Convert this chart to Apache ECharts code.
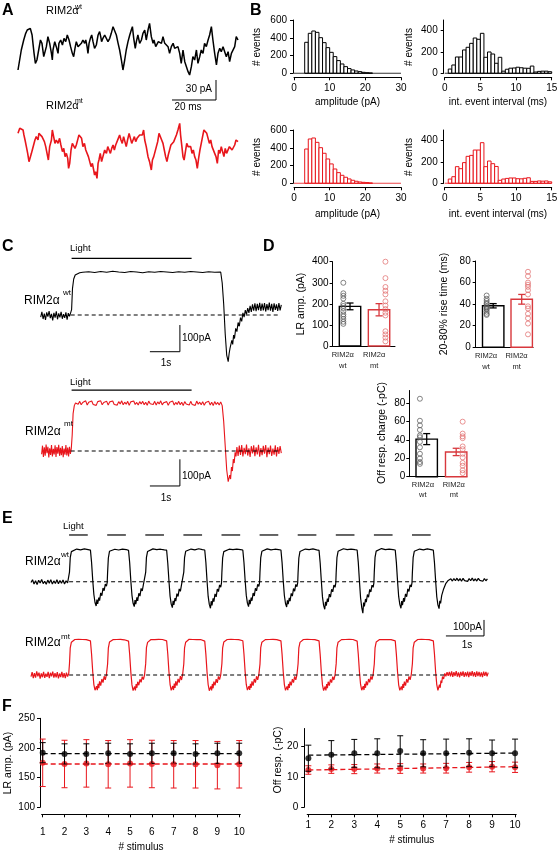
<!DOCTYPE html>
<html><head><meta charset="utf-8">
<script src="https://cdn.jsdelivr.net/npm/echarts@6/dist/echarts.min.js"></script>
<style>html,body{margin:0;padding:0;background:#fff}#c{width:558px;height:852px}</style>
</head><body><div id="c"></div>
<script>
// ---------------- DATA ----------------
// Panel A: spontaneous traces [ms, pA]
const traceAwt = [[0,10],[0.8,12.5],[1.5,40],[2.6,55],[3.5,65],[4.2,70],[5.0,67.5],[5.6,72.5],[6.4,62.5],[6.8,50],[7.3,35],[7.9,20],[8.6,25],[9.4,40],[10.2,55],[10.9,50],[11.7,30],[12.4,27.5],[12.9,45],[13.6,60],[14.4,50],[15.2,35],[15.6,25],[15.9,40],[16.7,52.5],[17.4,45],[18.2,35],[18.6,50],[19.4,55],[20.2,47.5],[20.9,57.5],[21.7,52.5],[22.4,62.5],[23.2,55],[23.9,45],[24.7,35],[25.3,30],[25.9,42.5],[26.5,52.5],[27.3,45],[28.0,47.5],[28.8,50],[29.5,55],[30.3,50],[30.8,55],[31.4,45],[31.8,35],[32.3,50],[32.9,57.5],[33.5,62.5],[34.1,52.5],[34.8,42.5],[35.6,47.5],[36.4,62.5],[37.1,67.5],[37.6,60],[38.0,52.5],[38.6,57.5],[39.4,62.5],[40.2,60],[40.9,52.5],[41.7,57.5],[42.4,65],[43.2,75],[43.9,72.5],[44.7,62.5],[45.5,50],[46.2,40],[47.0,25],[47.7,10],[48.5,25],[49.2,40],[50.0,52.5],[50.8,62.5],[51.5,70],[52.0,75],[52.6,57.5],[53.3,42.5],[53.8,52.5],[54.5,62.5],[55.3,50],[56.1,55],[56.8,65],[57.6,70],[58.3,55],[59.1,70],[59.8,80],[60.6,60],[61.4,50],[61.8,55],[62.6,45],[63.2,42.5],[63.8,52.5],[64.4,55],[65.2,50],[65.9,60],[66.7,50],[67.4,52.5],[68.2,45],[68.9,35],[69.7,45],[70.5,50],[71.2,42.5],[72.0,40],[72.7,45],[73.5,35],[74.2,20],[75.0,40],[75.8,22.5],[76.5,20],[77.3,7.5],[78.0,2.5],[78.8,15],[79.5,30],[80.3,25],[81.1,40],[81.8,20],[82.6,30],[83.3,40],[84.1,35],[84.8,50],[85.6,45],[86.4,55],[87.1,62.5],[87.9,75],[88.6,55],[89.4,35],[90.2,17.5],[90.9,35],[91.7,42.5],[92.4,37.5],[93.2,45],[93.9,47.5],[94.7,30],[95.5,37.5],[96.2,22.5],[97.0,35],[97.7,32.5],[98.5,45],[99.2,60],[100.0,55]];
const traceAmt = [[0,80],[0.8,87.5],[1.5,90],[2.3,85],[2.7,77.5],[3.2,70],[3.8,60],[4.4,50],[5.0,37.5],[5.6,40],[6.1,50],[6.5,55],[7.1,62.5],[7.7,70],[8.3,75],[9.1,70],[9.5,80],[10.2,82.5],[10.9,75],[11.4,77.5],[12.0,67.5],[12.6,60],[13.2,50],[13.8,40],[14.4,60],[15.2,70],[15.6,85],[16.2,75],[16.8,65],[17.4,70],[18.2,65],[18.9,72.5],[19.5,62.5],[20.2,52.5],[20.8,57.5],[21.4,45],[22.0,50],[22.6,42.5],[23.0,27.5],[23.5,35],[24.1,55],[24.7,65],[25.3,67.5],[25.9,57.5],[26.5,62.5],[27.3,72.5],[27.7,77.5],[28.3,80],[28.9,72.5],[29.5,60],[30.2,65],[30.8,55],[31.4,52.5],[32.0,45],[32.6,47.5],[33.2,30],[33.8,35],[34.4,25],[34.8,17.5],[35.3,22.5],[35.9,12.5],[36.4,35],[36.8,40],[37.4,50],[38.0,37.5],[38.6,45],[39.4,55],[40.2,50],[40.8,60],[41.4,55],[42.0,50],[42.6,57.5],[43.2,62.5],[43.8,55],[44.4,62.5],[45.0,65],[45.6,72.5],[46.2,77.5],[46.8,70],[47.4,65],[48.0,75],[48.6,67.5],[49.2,60],[49.8,70],[50.5,80],[51.1,72.5],[51.7,65],[52.3,70],[52.9,75],[53.5,67.5],[54.1,72.5],[54.7,75],[55.3,77.5],[55.9,80],[56.5,77.5],[57.1,85],[57.6,70],[58.3,60],[59.1,45],[59.8,37.5],[60.6,25],[61.1,40],[61.7,45],[62.3,52.5],[62.9,60],[63.5,67.5],[64.1,80],[64.7,82.5],[65.3,70],[65.9,65],[66.5,55],[67.1,45],[67.7,37.5],[68.3,47.5],[68.9,55],[69.5,62.5],[70.2,65],[70.8,67.5],[71.4,70],[72.0,77.5],[72.7,85],[73.5,95],[73.9,77.5],[74.5,60],[75.0,45],[75.5,40],[76.1,52.5],[76.7,65],[77.3,60],[77.9,57.5],[78.5,60],[79.1,50],[79.7,55],[80.3,45],[80.9,40],[81.5,27.5],[82.1,42.5],[82.7,55],[83.3,65],[83.9,75],[84.5,85],[85.2,87.5],[85.8,80],[86.4,72.5],[87.0,65],[87.6,70],[88.2,60],[88.8,57.5],[89.4,50],[90.0,45],[90.6,35],[91.2,55],[91.8,50],[92.4,60],[93.0,52.5],[93.6,45],[94.2,57.5],[94.8,50],[95.5,52.5],[96.1,60],[96.7,62.5],[97.3,55],[97.9,57.5],[98.5,62.5],[99.1,70],[99.7,72.5],[100.0,67.5]];

// Panel B: histograms
const ampBins = [0,1,2,3,4,5,6,7,8,9,10,11,12,13,14,15,16,17,18,19,20,21,22,23,24,25,26,27,28,29];
const ampWt = [0,0,0,349,450,476,461,401,345,289,236,188,143,105,75,53,38,26,19,11,7,4,0,0,0,0,0,0,0,0];
const ampMt = [0,0,0,386,499,510,461,401,338,274,218,161,120,90,68,49,34,23,15,11,8,4,0,0,0,0,0,0,0,0];
const intBins = [0,0.5,1,1.5,2,2.5,3,3.5,4,4.5,5,5.5,6,6.5,7,7.5,8,8.5,9,9.5,10,10.5,11,11.5,12,12.5,13,13.5,14,14.5];
const intWt = [0,40,78,153,153,219,244,281,331,319,375,150,200,181,94,150,20,38,48,50,57,52,48,47,68,12,18,20,20,15];
const intMt = [0,40,62,156,137,194,253,262,312,312,381,156,209,184,158,28,40,46,50,50,43,42,47,52,18,18,22,20,22,14];

// Panel C: long light responses [s, pA]
const traceCwt = [[0,-8],[0.04,12],[0.08,-15],[0.12,5],[0.16,-18],[0.2,10],[0.24,-6],[0.28,15],[0.32,-12],[0.36,4],[0.4,-20],[0.44,8],[0.48,-10],[0.52,14],[0.56,-16],[0.6,6],[0.64,-9],[0.68,12],[0.72,-14],[0.76,3],[0.8,-11],[0.84,10],[0.88,-17],[0.92,7],[0.96,-5],[1.0,9],
[1.03,20],[1.06,100],[1.1,135],[1.15,150],[1.2,155],[1.3,158],[1.4,160],
[1.6,162],[1.8,159],[2.0,163],[2.2,160],[2.4,164],[2.6,161],[2.8,159],[3.0,163],[3.2,161],[3.4,158],[3.6,162],[3.8,160],[4.0,163],[4.2,161],[4.4,159],[4.6,162],[4.8,160],[5.0,163],[5.2,161],[5.4,159],[5.6,162],[5.8,160],[6.0,161],
[6.05,120],[6.1,40],[6.15,-70],[6.2,-150],[6.25,-175],[6.28,-145],[6.31,-125],[6.34,-130],[6.37,-95],[6.4,-110],[6.43,-75],[6.46,-88],[6.5,-50],[6.54,-62],[6.58,-28],[6.62,-42],[6.66,-10],[6.7,-24],[6.74,8],[6.78,-8],[6.82,18],[6.86,2],[6.9,26],[6.94,8],[6.98,34],[7.02,12],[7.06,40],[7.1,16],[7.14,44],[7.18,14],[7.22,42],[7.26,18],[7.3,46],[7.34,15],[7.38,43],[7.42,17],[7.46,45],[7.5,13],[7.54,41],[7.58,18],[7.62,47],[7.66,16],[7.7,42],[7.74,12],[7.78,44],[7.82,19],[7.86,40],[7.9,15],[7.94,45],[7.98,17],[8.02,38]];
const traceCmt = [[0.03,-12],[0.06,20],[0.09,-22],[0.12,14],[0.15,-18],[0.18,24],[0.21,-8],[0.24,16],[0.27,-24],[0.3,10],[0.33,-15],[0.36,22],[0.39,-20],[0.42,8],[0.45,-13],[0.48,21],[0.51,-22],[0.54,15],[0.57,-10],[0.6,23],[0.63,-18],[0.66,12],[0.69,-16],[0.72,19],[0.75,-23],[0.78,9],[0.81,-14],[0.84,22],[0.87,-17],[0.9,13],[0.93,-20],[0.96,16],[0.99,-11],[1.02,10],
[1.05,60],[1.08,140],[1.12,170],[1.16,180],
[1.2,184],[1.25,175],[1.3,186],[1.35,173],[1.4,182],[1.45,177],[1.5,188],[1.55,172],[1.6,183],[1.65,176],[1.7,187],[1.75,174],[1.8,181],[1.85,171],[1.9,185],[1.95,178],[2.0,188],[2.05,173],[2.1,182],[2.15,175],[2.2,186],[2.25,172],[2.3,184],[2.35,177],[2.4,187],[2.45,174],[2.5,181],[2.55,172],[2.6,185],[2.65,176],[2.7,188],[2.75,173],[2.8,183],[2.85,175],[2.9,186],[2.95,171],[3.0,184],[3.05,178],[3.1,187],[3.15,174],[3.2,182],[3.25,172],[3.3,185],[3.35,176],[3.4,186],[3.45,173],[3.5,183],[3.55,171],[3.6,187],[3.65,177],[3.7,182],[3.75,174],[3.8,186],[3.85,172],[3.9,184],[3.95,176],[4.0,188],[4.05,173],[4.1,181],[4.15,175],[4.2,185],[4.25,171],[4.3,183],[4.35,177],[4.4,187],[4.45,172],[4.5,182],[4.55,174],[4.6,186],[4.65,173],[4.7,183],[4.75,170],[4.8,185],[4.85,176],[4.9,182],[4.95,172],[5.0,186],[5.05,174],[5.1,181],[5.15,171],[5.2,187],[5.25,175],[5.3,183],[5.35,173],[5.4,185],[5.45,171],[5.5,182],[5.55,176],[5.6,186],[5.65,172],[5.7,183],[5.75,170],[5.8,185],[5.85,174],[5.9,182],[5.95,172],[6.0,184],[6.05,170],
[6.1,110],[6.15,20],[6.2,-70],[6.25,-115],[6.27,-121],[6.3,-90],[6.33,-105],[6.36,-60],[6.39,-75],[6.42,-30],[6.45,-45],[6.48,-5],[6.51,-20],[6.54,15],
[6.58,-18],[6.62,20],[6.66,-15],[6.7,22],[6.74,-20],[6.78,12],[6.82,-12],[6.86,24],[6.9,-17],[6.94,10],[6.98,-22],[7.02,18],[7.06,-9],[7.1,21],[7.14,-19],[7.18,14],[7.22,-13],[7.26,23],[7.3,-21],[7.34,11],[7.38,-16],[7.42,19],[7.46,-10],[7.5,22],[7.54,-23],[7.58,13],[7.62,-12],[7.66,20],[7.7,-18],[7.74,9],[7.78,-14],[7.82,21],[7.86,-20],[7.9,15],[7.94,-11],[7.98,18],[8.02,-8]];
const cLightOn = 1.03, cLightDur = 4.0;

// Panel D: bar + points
const dCats = ['RIM2α\nwt', 'RIM2α\nmt'];
const lrAmpWtPts = [300,250,238,225,200,190,180,165,150,140,128,115,105];
const lrAmpMtPts = [400,322,280,262,245,212,192,175,158,145,70,55,40,22];
const lrAmpMean = [188, 172], lrAmpSem = [16, 29];
const riseWtPts = [48,45,43,41,40,38,37,36,35,33,31,30];
const riseMtPts = [70,66,60,58,56,53,49,38,36,31,27,22,12];
const riseMean = [38.5, 44.5], riseSem = [2, 4.5];
const offWtPts = [85,61,56,51,45,43,38,32,25,20,16,14];
const offMtPts = [60,47,44,42,33,30,25,21,15,12,7,4];
const offMean = [41, 27], offSem = [6, 4];

// Panel E: 1 Hz light train [s, pA]
const stimOnsets = [1,2,3,4,5,6,7,8,9,10];
const eLightDur = 0.49;
const traceEwt = [[0,-5],[0.04,12],[0.08,-14],[0.12,6],[0.16,-18],[0.2,9],[0.24,-8],[0.28,14],[0.32,-12],[0.36,3],[0.4,-16],[0.44,10],[0.48,-9],[0.52,13],[0.56,-15],[0.6,5],[0.64,-11],[0.68,12],[0.72,-13],[0.76,7],[0.8,-10],[0.84,11],[0.88,-14],[0.92,6],[0.96,-8],[0.99,4],
[1.01,60],[1.03,150],[1.06,188],[1.1,198],[1.2,204],[1.3,199],[1.4,205],[1.5,200],[1.56,197],[1.59,120],[1.62,10],[1.65,-80],[1.68,-130],[1.71,-152],[1.73,-112],[1.75,-138],[1.78,-100],[1.8,-118],[1.83,-70],[1.86,-88],[1.89,-40],[1.92,-56],[1.95,-15],[1.98,-28],[2.0,-5],
[2.01,55],[2.03,148],[2.06,190],[2.1,200],[2.2,203],[2.3,198],[2.4,204],[2.5,201],[2.56,196],[2.59,118],[2.62,5],[2.65,-85],[2.68,-135],[2.71,-156],[2.73,-115],[2.75,-140],[2.78,-98],[2.8,-120],[2.83,-72],[2.86,-90],[2.89,-42],[2.92,-58],[2.95,-18],[2.98,-30],[3.0,-6],
[3.01,58],[3.03,152],[3.06,189],[3.1,199],[3.2,205],[3.3,200],[3.4,203],[3.5,199],[3.56,197],[3.59,115],[3.62,8],[3.65,-90],[3.68,-140],[3.71,-162],[3.73,-120],[3.75,-145],[3.78,-102],[3.8,-122],[3.83,-75],[3.86,-92],[3.89,-45],[3.92,-60],[3.95,-20],[3.98,-32],[4.0,-8],
[4.01,60],[4.03,150],[4.06,190],[4.1,201],[4.2,204],[4.3,199],[4.4,206],[4.5,200],[4.56,198],[4.59,120],[4.62,6],[4.65,-92],[4.68,-142],[4.71,-166],[4.73,-122],[4.75,-148],[4.78,-104],[4.8,-125],[4.83,-76],[4.86,-95],[4.89,-46],[4.92,-62],[4.95,-20],[4.98,-34],[5.0,-7],
[5.01,57],[5.03,149],[5.06,188],[5.1,199],[5.2,203],[5.3,200],[5.4,204],[5.5,201],[5.56,197],[5.59,118],[5.62,9],[5.65,-84],[5.68,-134],[5.71,-156],[5.73,-114],[5.75,-140],[5.78,-99],[5.8,-119],[5.83,-71],[5.86,-89],[5.89,-41],[5.92,-57],[5.95,-16],[5.98,-29],[6.0,-5],
[6.01,59],[6.03,151],[6.06,190],[6.1,200],[6.2,205],[6.3,199],[6.4,203],[6.5,200],[6.56,198],[6.59,119],[6.62,7],[6.65,-86],[6.68,-136],[6.71,-158],[6.73,-116],[6.75,-141],[6.78,-101],[6.8,-121],[6.83,-73],[6.86,-90],[6.89,-43],[6.92,-59],[6.95,-17],[6.98,-31],[7.0,-6],
[7.01,56],[7.03,148],[7.06,189],[7.1,198],[7.2,204],[7.3,200],[7.4,205],[7.5,199],[7.56,196],[7.59,117],[7.62,4],[7.65,-95],[7.68,-148],[7.71,-172],[7.73,-126],[7.75,-150],[7.78,-106],[7.8,-126],[7.83,-78],[7.86,-96],[7.89,-47],[7.92,-63],[7.95,-21],[7.98,-35],[8.0,-8],
[8.01,58],[8.03,150],[8.06,190],[8.1,200],[8.2,206],[8.3,201],[8.4,204],[8.5,200],[8.56,198],[8.59,121],[8.62,6],[8.65,-100],[8.68,-160],[8.71,-197],[8.73,-130],[8.75,-155],[8.78,-108],[8.8,-128],[8.83,-80],[8.86,-97],[8.89,-48],[8.92,-64],[8.95,-22],[8.98,-35],[9.0,-7],
[9.01,60],[9.03,152],[9.06,191],[9.1,201],[9.2,207],[9.3,200],[9.4,204],[9.5,201],[9.56,198],[9.59,119],[9.62,5],[9.65,-92],[9.68,-142],[9.71,-166],[9.73,-121],[9.75,-147],[9.78,-103],[9.8,-124],[9.83,-76],[9.86,-94],[9.89,-45],[9.92,-61],[9.95,-19],[9.98,-33],[10.0,-6],
[10.01,58],[10.03,150],[10.06,190],[10.1,200],[10.2,204],[10.3,199],[10.4,205],[10.5,200],[10.56,197],[10.59,118],[10.62,6],[10.65,-94],[10.68,-145],[10.71,-168],[10.73,-120],[10.75,-135],[10.78,-85],[10.8,-95],[10.83,-45],[10.86,-50],[10.89,-10],[10.92,-15],[10.95,8],[10.98,2],
[11.02,18],[11.06,4],[11.1,20],[11.14,6],[11.18,22],[11.22,5],[11.26,19],[11.3,3],[11.34,21],[11.38,7],[11.42,18],[11.46,2],[11.5,20],[11.54,6],[11.58,23],[11.62,5],[11.66,18],[11.7,4],[11.74,21],[11.78,8],[11.82,19],[11.86,3],[11.9,20],[11.94,6],[11.98,17]];
const traceEmt = [[0,-10],[0.03,18],[0.06,-20],[0.09,12],[0.12,-16],[0.15,22],[0.18,-8],[0.21,15],[0.24,-22],[0.27,10],[0.3,-14],[0.33,20],[0.36,-18],[0.39,8],[0.42,-12],[0.45,19],[0.48,-20],[0.51,14],[0.54,-9],[0.57,21],[0.6,-17],[0.63,11],[0.66,-15],[0.69,18],[0.72,-21],[0.75,9],[0.78,-13],[0.81,20],[0.84,-16],[0.87,12],[0.9,-19],[0.93,15],[0.96,-10],[0.99,8],
[1.01,70],[1.03,170],[1.06,205],[1.1,214],[1.15,222],[1.2,215],[1.25,223],[1.3,216],[1.35,222],[1.4,214],[1.45,221],[1.5,216],[1.56,213],[1.59,130],[1.62,20],[1.65,-60],[1.68,-95],[1.7,-105],[1.72,-70],[1.74,-95],[1.76,-55],[1.78,-82],[1.8,-40],[1.83,-66],[1.86,-25],[1.89,-48],[1.92,-8],[1.95,-30],[1.98,2],
[2.01,68],[2.03,168],[2.06,206],[2.1,215],[2.15,221],[2.2,214],[2.25,222],[2.3,217],[2.35,223],[2.4,215],[2.45,220],[2.5,215],[2.56,212],[2.59,128],[2.62,18],[2.65,-62],[2.68,-97],[2.7,-108],[2.72,-72],[2.74,-96],[2.76,-57],[2.78,-80],[2.8,-42],[2.83,-64],[2.86,-27],[2.89,-46],[2.92,-10],[2.95,-28],[2.98,0],
[3.01,71],[3.03,171],[3.06,204],[3.1,216],[3.15,222],[3.2,216],[3.25,221],[3.3,215],[3.35,223],[3.4,216],[3.45,222],[3.5,214],[3.56,213],[3.59,131],[3.62,22],[3.65,-58],[3.68,-96],[3.7,-106],[3.72,-69],[3.74,-94],[3.76,-54],[3.78,-81],[3.8,-39],[3.83,-67],[3.86,-24],[3.89,-47],[3.92,-7],[3.95,-31],[3.98,3],
[4.01,69],[4.03,169],[4.06,205],[4.1,215],[4.15,223],[4.2,215],[4.25,222],[4.3,216],[4.35,221],[4.4,214],[4.45,222],[4.5,216],[4.56,212],[4.59,129],[4.62,19],[4.65,-61],[4.68,-98],[4.7,-104],[4.72,-71],[4.74,-96],[4.76,-56],[4.78,-83],[4.8,-41],[4.83,-65],[4.86,-26],[4.89,-49],[4.92,-9],[4.95,-29],[4.98,1],
[5.01,70],[5.03,170],[5.06,206],[5.1,214],[5.15,222],[5.2,216],[5.25,223],[5.3,215],[5.35,222],[5.4,215],[5.45,221],[5.5,217],[5.56,214],[5.59,130],[5.62,21],[5.65,-59],[5.68,-94],[5.7,-103],[5.72,-70],[5.74,-93],[5.76,-55],[5.78,-80],[5.8,-40],[5.83,-66],[5.86,-25],[5.89,-47],[5.92,-8],[5.95,-30],[5.98,2],
[6.01,68],[6.03,171],[6.06,205],[6.1,215],[6.15,221],[6.2,214],[6.25,222],[6.3,216],[6.35,223],[6.4,214],[6.45,221],[6.5,216],[6.56,213],[6.59,129],[6.62,20],[6.65,-60],[6.68,-96],[6.7,-105],[6.72,-71],[6.74,-95],[6.76,-56],[6.78,-81],[6.8,-41],[6.83,-65],[6.86,-26],[6.89,-48],[6.92,-9],[6.95,-30],[6.98,1],
[7.01,70],[7.03,170],[7.06,204],[7.1,214],[7.15,222],[7.2,215],[7.25,223],[7.3,216],[7.35,222],[7.4,215],[7.45,221],[7.5,215],[7.56,213],[7.59,128],[7.62,19],[7.65,-62],[7.68,-97],[7.7,-107],[7.72,-72],[7.74,-96],[7.76,-57],[7.78,-82],[7.8,-42],[7.83,-66],[7.86,-27],[7.89,-48],[7.92,-10],[7.95,-31],[7.98,0],
[8.01,71],[8.03,170],[8.06,205],[8.1,215],[8.15,221],[8.2,215],[8.25,222],[8.3,217],[8.35,223],[8.4,214],[8.45,222],[8.5,216],[8.56,212],[8.59,130],[8.62,21],[8.65,-59],[8.68,-95],[8.7,-104],[8.72,-70],[8.74,-94],[8.76,-55],[8.78,-80],[8.8,-40],[8.83,-64],[8.86,-25],[8.89,-46],[8.92,-8],[8.95,-29],[8.98,2],
[9.01,69],[9.03,169],[9.06,206],[9.1,214],[9.15,222],[9.2,216],[9.25,221],[9.3,215],[9.35,222],[9.4,216],[9.45,221],[9.5,215],[9.56,213],[9.59,129],[9.62,20],[9.65,-61],[9.68,-96],[9.7,-106],[9.72,-71],[9.74,-95],[9.76,-56],[9.78,-81],[9.8,-41],[9.83,-66],[9.86,-26],[9.89,-47],[9.92,-9],[9.95,-30],[9.98,1],
[10.01,70],[10.03,170],[10.06,205],[10.1,215],[10.15,222],[10.2,215],[10.25,223],[10.3,216],[10.35,222],[10.4,214],[10.45,221],[10.5,216],[10.56,213],[10.59,130],[10.62,20],[10.65,-60],[10.68,-96],[10.7,-106],[10.72,-60],[10.74,-80],[10.76,-35],[10.78,-50],[10.8,-10],[10.83,-25],[10.86,10],[10.89,-8],[10.92,18],[10.95,-5],[10.98,20],
[11.01,-8],[11.04,22],[11.07,-12],[11.1,18],[11.13,-6],[11.16,24],[11.19,-10],[11.22,16],[11.25,-14],[11.28,20],[11.31,-5],[11.34,23],[11.37,-11],[11.4,17],[11.43,-8],[11.46,21],[11.49,-13],[11.52,19],[11.55,-6],[11.58,24],[11.61,-9],[11.64,18],[11.67,-12],[11.7,22],[11.73,-7],[11.76,20],[11.79,-10],[11.82,17],[11.85,-14],[11.88,21],[11.91,-6],[11.94,19],[11.97,-9],[12.0,15]];

// Panel F: per stimulus
const stimNum = [1,2,3,4,5,6,7,8,9,10];
const fLrWt = [192,190,190,191,190,191,191,190,191,191];
const fLrWtErr = [17,17,17,17,17,17,17,17,17,17];
const fLrMt = [175,173,174,172.5,174,173,172.5,172.5,171,172.5];
const fLrMtErr = [40,40,40,40,40,40,40,40,40,40];
const fLrFitWt = [190.5,190.5], fLrFitMt = [173,173];
const fOffWt = [16.2,17.3,17.8,17.8,18.6,17.8,17.8,18.0,17.8,17.8];
const fOffWtErr = [4.3,4.7,4.6,4.8,5.0,4.5,4.7,4.6,4.4,4.7];
const fOffMt = [12.3,12.6,12.6,12.8,12.8,12.8,12.9,13.2,13.4,13.2];
const fOffMtErr = [1.4,1.4,1.5,1.5,1.6,1.5,1.6,1.6,1.7,1.7];
const fOffFitWt = [17.2,17.9], fOffFitMt = [12.3,13.4];

// ---------------- STYLE / LAYOUT ----------------
const FF = '"Liberation Sans", Arial, Helvetica, sans-serif';
const RED = '#e8161c';
const RED_D = '#d8383d';
const RED_PT = '#e06a6a';

const grids = [
  {left:18, top:20, width:220, height:83.33},      //0 A wt
  {left:18, top:120, width:220, height:70},        //1 A mt
  {left:294, top:20, width:107, height:53.3},      //2 B amp wt
  {left:444.7, top:20, width:107, height:53.3},    //3 B int wt
  {left:294, top:130, width:107, height:53.3},     //4 B amp mt
  {left:444.7, top:130, width:107, height:53.3},   //5 B int mt
  {left:40.7, top:245.6, width:243, height:122.8}, //6 C wt
  {left:40.7, top:381.6, width:243, height:122.8}, //7 C mt
  {left:332.6, top:261.7, width:62.4, height:84.3},//8 D LR
  {left:475.7, top:261, width:57.4, height:86.3},  //9 D rise
  {left:409.3, top:390.5, width:57.5, height:86.2},//10 D off
  {left:31, top:530.5, width:457.2, height:108.8}, //11 E wt
  {left:31, top:635, width:457.2, height:64},      //12 E mt
  {left:41.6, top:718.3, width:198.7, height:89},  //13 F LR
  {left:307.2, top:728.5, width:209, height:78.8}  //14 F off
].map(g => Object.assign({containLabel:false, outerBoundsMode:'none'}, g));

function hid(gi, min, max){ return {type:'value', gridIndex:gi, min:min, max:max, show:false}; }
function vis(gi, min, max, o){
  o = o || {};
  const a = {type:'value', gridIndex:gi, min:min, max:max, offset:o.offset||0,
    axisLine:{show:true, onZero:false, lineStyle:{color:'#000', width:1}},
    axisTick:{show:o.tick!==false, length:3, lineStyle:{color:'#000', width:1}},
    axisLabel:{show:true, color:o.lc||'#000', fontSize:o.fs||10, fontFamily:FF, margin:o.margin==null?3:o.margin, hideOverlap:false},
    splitLine:{show:false}};
  if (o.interval != null) a.interval = o.interval;
  if (o.values) { a.axisTick.customValues = o.values; a.axisLabel.customValues = o.values; }
  if (o.formatter) a.axisLabel.formatter = o.formatter;
  if (o.lh) a.axisLabel.lineHeight = o.lh;
  return a;
}
const dLabelFmt = v => (v < 1.3 ? dCats[0] : dCats[1]);

const xAxis = [
  hid(0,0,100), hid(1,0,100),
  vis(2,0,30,{interval:10, offset:4, margin:5.5}),
  vis(3,0,15,{interval:5, offset:4, margin:5.5}),
  vis(4,0,30,{interval:10, offset:4, margin:5.5}),
  vis(5,0,15,{interval:5, offset:4, margin:5.5}),
  hid(6,0,8.1), hid(7,0,8.1),
  vis(8,0.4,2.55,{values:[0.75,1.83], tick:false, formatter:dLabelFmt, fs:7.5, lh:11, margin:3, lc:'#222'}),
  vis(9,0.386,2.4,{values:[0.75,1.82], tick:false, formatter:dLabelFmt, fs:7.5, lh:11, margin:3, lc:'#222'}),
  vis(10,0.41,2.36,{values:[0.87,1.92], tick:false, formatter:dLabelFmt, fs:7.5, lh:10, margin:3, lc:'#222'}),
  hid(11,0,12), hid(12,0,12),
  vis(13,0.95,10.05,{values:stimNum, offset:7, margin:12.5}),
  vis(14,0.95,10.05,{values:stimNum, offset:7, margin:6})
];
const yAxis = [
  hid(0,-40,85), hid(1,-5,100),
  vis(2,0,600,{interval:200, offset:1, margin:6}),
  vis(3,0,500,{values:[0,200,400], offset:1, margin:6}),
  vis(4,0,600,{interval:200, offset:1, margin:6}),
  vis(5,0,500,{values:[0,200,400], offset:1, margin:6}),
  hid(6,-200,260), hid(7,-200,260),
  vis(8,0,400,{interval:100, margin:4}),
  vis(9,0,80,{interval:20, margin:5}),
  vis(10,0,94,{values:[0,20,40,60,80], margin:4}),
  hid(11,-360,320), hid(12,-150,250),
  vis(13,100,250,{interval:50, offset:1.6, margin:5}),
  vis(14,0,26,{values:[0,10,20], offset:3, margin:6})
];

const series = [];
function line(gi, data, color, width, dashed){
  series.push({type:'line', xAxisIndex:gi, yAxisIndex:gi, data:data, symbol:'none', showSymbol:false, silent:true,
    lineStyle:{color:color, width:width, type: dashed ? [4,3] : 'solid'}, z: dashed ? 3 : 2});
}
// A
line(0, traceAwt, '#000', 1.5);
line(1, traceAmt, RED, 1.6);
line(0, [[70,-35],[90,-35],[90,-5]], '#000', 1);

// B histograms
function hist(gi, bins, counts, bw, color){
  series.push({type:'line', xAxisIndex:gi, yAxisIndex:gi, data:[[bins[0],0],[bins[bins.length-1]+bw,0]], symbol:'none', silent:true, lineStyle:{color:color, width:1}});
  series.push({type:'custom', xAxisIndex:gi, yAxisIndex:gi, silent:true, encode:{x:0, y:1},
    data: bins.map((b,i)=>[b, counts[i]]),
    renderItem: function(p, api){
      const x0 = api.value(0), h = api.value(1);
      if (!h) return null;
      const a = api.coord([x0,0]), b = api.coord([x0+bw,h]);
      return {type:'rect', shape:{x:a[0], y:b[1], width:b[0]-a[0], height:a[1]-b[1]}, style:{fill:'#fff', stroke:color, lineWidth:1}};
    }});
}
hist(2, ampBins, ampWt, 1, '#000');
hist(3, intBins, intWt, 0.5, '#000');
hist(4, ampBins, ampMt, 1, RED);
hist(5, intBins, intMt, 0.5, RED);

// light bars (custom, from onset/duration)
function lightBars(gi, onsets, dur, level, color, width){
  series.push({type:'custom', xAxisIndex:gi, yAxisIndex:gi, silent:true, encode:{x:0},
    data: onsets.map(o=>[o, dur]),
    renderItem: function(p, api){
      const a = api.coord([api.value(0), level]), b = api.coord([api.value(0)+api.value(1), level]);
      return {type:'line', shape:{x1:a[0], y1:a[1], x2:b[0], y2:b[1]}, style:{stroke:color, lineWidth:width}};
    }});
}
// C
lightBars(6, [cLightOn], cLightDur, 212, '#000', 1.1);
lightBars(7, [cLightOn], cLightDur, 228, '#000', 1.1);
line(6, traceCwt, '#000', 1.1);
line(7, traceCmt, RED, 1.1);
line(6, [[1.0,0],[8.0,0]], '#000', 1.1, true);
line(7, [[1.0,0],[8.0,0]], '#000', 1.1, true);
line(6, [[3.64,-137.5],[4.64,-137.5],[4.64,-37.5]], '#000', 1);
line(7, [[3.64,-131],[4.64,-131],[4.64,-31]], '#000', 1);

// D bar charts
function errRender(cap, cols, lw){
  return function(p, api){
    const x = api.value(0), m = api.value(1), e = api.value(2);
    const t = api.coord([x, m+e]), b = api.coord([x, m-e]);
    const col = Array.isArray(cols) ? cols[p.dataIndex] : cols;
    const s = {stroke:col, lineWidth:lw};
    return {type:'group', children:[
      {type:'line', shape:{x1:t[0], y1:t[1], x2:b[0], y2:b[1]}, style:s},
      {type:'line', shape:{x1:t[0]-cap, y1:t[1], x2:t[0]+cap, y2:t[1]}, style:s},
      {type:'line', shape:{x1:b[0]-cap, y1:b[1], x2:b[0]+cap, y2:b[1]}, style:s}]};
  };
}
function dChart(gi, wtPts, mtPts, mean, sem){
  const cols = ['#000', RED_D];
  series.push({type:'custom', xAxisIndex:gi, yAxisIndex:gi, silent:true, encode:{x:0,y:1},
    data: mean.map((m,i)=>[i+1, m]),
    renderItem: function(p, api){
      const i = p.dataIndex; const a = api.coord([api.value(0), 0]), b = api.coord([api.value(0), api.value(1)]);
      return {type:'rect', shape:{x:a[0]-10.7, y:b[1], width:21.4, height:a[1]-b[1]}, style:{fill:'#fff', stroke:cols[i], lineWidth:1.4}};
    }});
  series.push({type:'scatter', xAxisIndex:gi, yAxisIndex:gi, silent:true, symbol:'circle', symbolSize:5,
    data: wtPts.map(v=>[1-0.23, v]), itemStyle:{color:'rgba(0,0,0,0)', borderColor:'#555', borderWidth:0.9}, z:4});
  series.push({type:'scatter', xAxisIndex:gi, yAxisIndex:gi, silent:true, symbol:'circle', symbolSize:5,
    data: mtPts.map(v=>[2+0.22, v]), itemStyle:{color:'rgba(0,0,0,0)', borderColor:RED_PT, borderWidth:0.9}, z:4});
  series.push({type:'custom', xAxisIndex:gi, yAxisIndex:gi, silent:true, encode:{x:0,y:1}, z:5,
    data: mean.map((m,i)=>[i+1, m, sem[i]]),
    renderItem: errRender(3.5, cols, 1.3)});
}
dChart(8, lrAmpWtPts, lrAmpMtPts, lrAmpMean, lrAmpSem);
dChart(9, riseWtPts, riseMtPts, riseMean, riseSem);
dChart(10, offWtPts, offMtPts, offMean, offSem);

// E
lightBars(11, stimOnsets, eLightDur, 292, '#333', 1.5);
line(11, traceEwt, '#000', 1.2);
line(12, traceEmt, RED, 1.2);
line(11, [[1.0,0],[10.85,0]], '#000', 1.1, true);
line(12, [[1.0,0],[10.85,0]], '#000', 1.1, true);
line(11, [[10.89,-339],[11.89,-339],[11.89,-239]], '#000', 1);

// F
function fPlot(gi, wt, wtErr, mt, mtErr, fitWt, fitMt){
  series.push({type:'custom', xAxisIndex:gi, yAxisIndex:gi, silent:true, encode:{x:0,y:1}, z:3,
    data: stimNum.map((s,i)=>[s, mt[i], mtErr[i]]), renderItem: errRender(3, RED, 1)});
  series.push({type:'scatter', xAxisIndex:gi, yAxisIndex:gi, silent:true, symbolSize:6, z:4,
    data: stimNum.map((s,i)=>[s, mt[i]]), itemStyle:{color:RED}});
  series.push({type:'custom', xAxisIndex:gi, yAxisIndex:gi, silent:true, encode:{x:0,y:1}, z:5,
    data: stimNum.map((s,i)=>[s, wt[i], wtErr[i]]), renderItem: errRender(3, '#000', 1)});
  series.push({type:'scatter', xAxisIndex:gi, yAxisIndex:gi, silent:true, symbolSize:6, z:6,
    data: stimNum.map((s,i)=>[s, wt[i]]), itemStyle:{color:'#000'}});
  series.push({type:'line', xAxisIndex:gi, yAxisIndex:gi, silent:true, symbol:'none', z:7,
    data:[[1,fitMt[0]],[10,fitMt[1]]], lineStyle:{color:RED, width:1.3, type:[5,3]}});
  series.push({type:'line', xAxisIndex:gi, yAxisIndex:gi, silent:true, symbol:'none', z:7,
    data:[[1,fitWt[0]],[10,fitWt[1]]], lineStyle:{color:'#000', width:1.3, type:[5,3]}});
}
fPlot(13, fLrWt, fLrWtErr, fLrMt, fLrMtErr, fLrFitWt, fLrFitMt);
fPlot(14, fOffWt, fOffWtErr, fOffMt, fOffMtErr, fOffFitWt, fOffFitMt);

// ---------------- TEXT ----------------
function T(text, x, y, o){
  o = o || {};
  return {type:'text', x:x, y:y, rotation:o.rot||0, silent:true, z:10,
    style:{text:text, fill:o.color||'#000', fontSize:o.fs||10, fontFamily:FF, fontWeight:o.bold?'bold':'normal',
      align:o.align||'left', verticalAlign:o.va||'middle'}};
}
const R90 = Math.PI/2;
const texts = [
  T('A',2,11,{fs:16,bold:true}), T('B',250,11,{fs:16,bold:true}), T('C',2,247,{fs:16,bold:true}),
  T('D',263,247,{fs:16,bold:true}), T('E',2,519,{fs:16,bold:true}), T('F',2,707,{fs:16,bold:true}),
  // A
  T('RIM2α',46,11,{fs:11}), T('wt',75,7,{fs:7}),
  T('RIM2α',46,106,{fs:11}), T('mt',75,101,{fs:7}),
  T('30 pA',212,89,{align:'right'}), T('20 ms',188,107,{align:'center'}),
  // B
  T('# events',257,47,{rot:R90, align:'center'}), T('# events',409,47,{rot:R90, align:'center'}),
  T('# events',257,157,{rot:R90, align:'center'}), T('# events',409,157,{rot:R90, align:'center'}),
  T('amplitude (pA)',347.5,102,{align:'center'}), T('int. event interval (ms)',498,102,{align:'center'}),
  T('amplitude (pA)',347.5,214,{align:'center'}), T('int. event interval (ms)',498,214,{align:'center'}),
  // C
  T('Light',70,248,{fs:9.5}), T('Light',70,382,{fs:9.5}),
  T('RIM2α',24,301,{fs:12}), T('wt',63,293,{fs:8}),
  T('RIM2α',25,432,{fs:12}), T('mt',64,424,{fs:8}),
  T('100pA',182,338.5), T('1s',166,363,{align:'center'}),
  T('100pA',182,476.5), T('1s',166,498,{align:'center'}),
  // D
  T('LR amp. (pA)',301,304,{rot:R90, align:'center', fs:10.5}),
  T('20-80% rise time (ms)',444,304,{rot:R90, align:'center', fs:10.5}),
  T('Off resp. charge (-pC)',382.5,433,{rot:R90, align:'center', fs:10.5}),
  // E
  T('Light',63,526,{fs:9.5}),
  T('RIM2α',25,562,{fs:12}), T('wt',61,555,{fs:8}),
  T('RIM2α',25,643,{fs:12}), T('mt',61,637,{fs:8}),
  T('100pA',453,627), T('1s',467,645,{align:'center'}),
  // F
  T('LR amp. (pA)',8,763,{rot:R90, align:'center', fs:10.5}),
  T('Off resp. (-pC)',278,760,{rot:R90, align:'center', fs:10.5}),
  T('# stimulus',141,847,{align:'center'}),
  T('# stimulus',411.7,840,{align:'center'})
];

const chart = echarts.init(document.getElementById('c'), null, {renderer:'canvas', width:558, height:852});
chart.setOption({
  animation:false, backgroundColor:'#fff',
  textStyle:{fontFamily:FF},
  grid:grids, xAxis:xAxis, yAxis:yAxis, series:series,
  graphic:{elements:texts}
});
</script></body></html>
